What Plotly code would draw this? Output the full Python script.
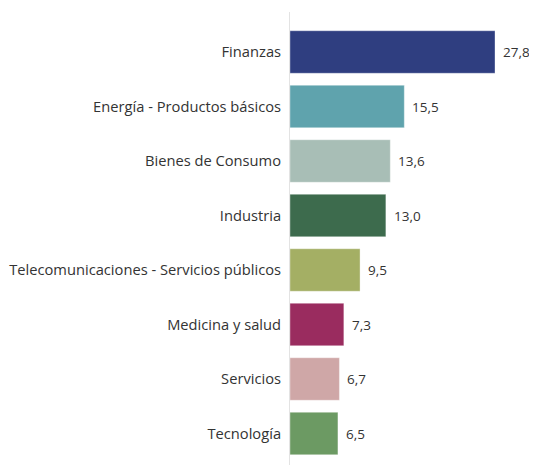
import plotly.graph_objects as go

categories = ["Finanzas", "Energía - Productos básicos", "Bienes de Consumo", "Industria",
              "Telecomunicaciones - Servicios públicos", "Medicina y salud", "Servicios", "Tecnología"]
values = [27.8, 15.5, 13.6, 13.0, 9.5, 7.3, 6.7, 6.5]
colors = ["#2F3E80", "#5FA3AD", "#A8BEB6", "#3D6B4D", "#A4AF64", "#9A2C5F", "#CFA7A7", "#6C9A63"]
value_labels = [f"{v:.1f}".replace(".", ",") for v in values]

# page body has an 8px default margin; compensate
OFF = 8
W, H = 537 - OFF, 467 - OFF
ml, mr, mt, mb = 290 - OFF, 0, 12 - OFF, 2
px_per_unit = 7.374
xmax = (W - ml - mr) / px_per_unit
plot_h = H - mt - mb
spacing = 54.5
top_units = (52 - 12) / spacing
span = plot_h / spacing

fig = go.Figure()
fig.add_trace(go.Bar(
    x=values, y=categories, orientation="h",
    marker=dict(color=colors, line=dict(color="rgba(255,255,255,0.35)", width=1)),
    width=0.78, hoverinfo="skip", showlegend=False,
))
for c, v, t in zip(categories, values, value_labels):
    fig.add_annotation(x=v, y=c, text=t, showarrow=False, xanchor="left", xshift=6,
                       font=dict(family="Open Sans", size=13.5, color="#333333"))

fig.update_layout(
    width=W, height=H,
    margin=dict(l=ml, r=mr, t=mt, b=mb, autoexpand=False),
    plot_bgcolor="white", paper_bgcolor="white",
    font=dict(family="Open Sans", size=14.7, color="#333333"),
    bargap=0.22,
)
fig.update_xaxes(range=[0, xmax], visible=False, showgrid=False, zeroline=False, automargin=False)
fig.update_yaxes(
    categoryorder="array", categoryarray=categories,
    range=[span - top_units, -top_units], automargin=False,
    showline=True, linecolor="#E3E3E3", linewidth=1,
    showgrid=False, zeroline=False, ticks="", ticklabelstandoff=5,
)
fig.write_html("out.html")
